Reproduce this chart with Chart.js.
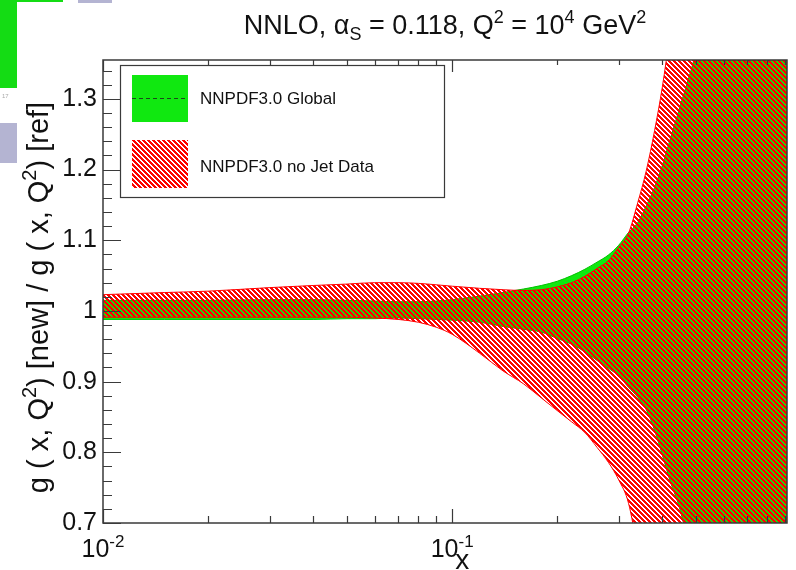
<!DOCTYPE html>
<html>
<head>
<meta charset="utf-8">
<script src="https://cdn.jsdelivr.net/npm/chart.js@4"></script>
<style>
  body { margin: 0; background: #fff; }
  #wrap { position: relative; width: 796px; height: 570px; overflow: hidden; }
  .crumb { position: absolute; }
</style>
</head>
<body>
<div id="wrap">
  <canvas id="ratio-chart" width="796" height="570"></canvas>
  <!-- bits of the slide the plot was cut out of -->
  <div class="crumb" style="left:0;top:0;width:17px;height:88px;background:#14dc14"></div>
  <div class="crumb" style="left:17px;top:0;width:46px;height:2px;background:#14dc14"></div>
  <div class="crumb" style="left:78px;top:0;width:34px;height:3px;background:#b4b4d2"></div>
  <div class="crumb" style="left:0;top:123px;width:17px;height:40px;background:#b4b4d2"></div>
  <div class="crumb" style="left:2px;top:93px;font:6px 'Liberation Sans';color:#aaa">17</div>
</div>
<script>
// x grid shared by all the band edges
const xGrid = [0.01, 0.015, 0.02, 0.03, 0.04, 0.05, 0.06, 0.07, 0.08, 0.09, 0.1,
  0.12, 0.14, 0.16, 0.18, 0.2, 0.22, 0.24, 0.26, 0.28, 0.3, 0.32, 0.34, 0.36,
  0.38, 0.4, 0.42, 0.45, 0.5, 0.6, 0.7, 0.8, 0.91]

// NNPDF3.0 global fit band (green)
const globalLow = [0.988, 0.988, 0.988, 0.988, 0.988, 0.989, 0.989, 0.990, 0.989, 0.988, 0.987,
  0.984, 0.978, 0.974, 0.970, 0.961, 0.953, 0.942, 0.930, 0.919, 0.908, 0.892, 0.878, 0.860,
  0.831, 0.796, 0.761, 0.718, 0.62, 0.45, 0.3, 0.15, 0.0]
const globalHigh = [1.015, 1.015, 1.015, 1.016, 1.016, 1.015, 1.014, 1.013, 1.013, 1.014, 1.016,
  1.021, 1.026, 1.031, 1.036, 1.042, 1.050, 1.059, 1.069, 1.079, 1.093, 1.111, 1.125, 1.149,
  1.175, 1.206, 1.241, 1.290, 1.368, 1.55, 1.75, 1.95, 2.2]

// NNPDF3.0 without jet data (red hatch)
const noJetLow = [0.991, 0.991, 0.991, 0.991, 0.991, 0.991, 0.990, 0.988, 0.984, 0.977, 0.967,
  0.940, 0.915, 0.897, 0.877, 0.859, 0.843, 0.828, 0.807, 0.786, 0.761, 0.728, 0.66, 0.58,
  0.50, 0.42, 0.35, 0.25, 0.1, -0.2, -0.5, -0.8, -1.0]
const noJetHigh = [1.023, 1.026, 1.028, 1.033, 1.036, 1.038, 1.040, 1.040, 1.039, 1.037, 1.035,
  1.032, 1.030, 1.029, 1.030, 1.034, 1.040, 1.049, 1.060, 1.071, 1.090, 1.110, 1.153, 1.199,
  1.255, 1.317, 1.39, 1.50, 1.70, 2.0, 2.3, 2.6, 2.9]

const yTicks = [0.7, 0.8, 0.9, 1.0, 1.1, 1.2, 1.3]
const yTickLabels = ['0.7', '0.8', '0.9', '1', '1.1', '1.2', '1.3']
const xLabelTicks = [0.01, 0.1]
const xLabelPowers = ['-2', '-1']
const seriesNames = ['NNPDF3.0 Global', 'NNPDF3.0 no Jet Data']

const GREEN = '#10e810'
const RED = '#ff0000'
const FONT = '"Liberation Sans", Arial, sans-serif'

// ROOT-like hatch: red with 2px see-through dashes stepping down-right
const makeHatch = () => {
  const c = document.createElement('canvas')
  c.width = 5
  c.height = 5
  const g = c.getContext('2d')
  g.fillStyle = RED
  g.fillRect(0, 0, 5, 5)
  for (let r = 0; r < 5; r++) {
    g.clearRect(r % 5, r, 1, 1)
    g.clearRect((r + 1) % 5, r, 1, 1)
  }
  return g.createPattern(c, 'repeat')
}
const hatch = makeHatch()

const pts = (arr) => xGrid.map((x, i) => ({ x, y: arr[i] }))

// text with super/subscripts, parts = [{t, sup, sub}]
const drawRich = (ctx, parts, x, y, size, align) => {
  const fontOf = (p) => `${p.sup || p.sub ? Math.round(size * 0.68) : size}px ${FONT}`
  let w = 0
  parts.forEach((p) => {
    ctx.font = fontOf(p)
    w += ctx.measureText(p.t).width
  })
  let cx = align === 'center' ? x - w / 2 : align === 'right' ? x - w : x
  ctx.textBaseline = 'alphabetic'
  ctx.textAlign = 'left'
  parts.forEach((p) => {
    ctx.font = fontOf(p)
    let dy = 0
    if (p.sup) dy = -size * 0.42
    if (p.sub) dy = size * 0.22
    ctx.fillText(p.t, cx, y + dy)
    cx += ctx.measureText(p.t).width
  })
}

const rootStyle = {
  id: 'rootStyle',
  afterDraw(chart) {
    const { ctx, chartArea: ca, scales } = chart
    const xs = scales.x
    const ys = scales.y
    ctx.save()
    ctx.fillStyle = '#111'

    // title
    drawRich(ctx, [
      { t: 'NNLO, α' }, { t: 'S', sub: true }, { t: ' = 0.118, Q' }, { t: '2', sup: true },
      { t: ' = 10' }, { t: '4', sup: true }, { t: ' GeV' }, { t: '2', sup: true },
    ], (ca.left + ca.right) / 2, 34, 27, 'center')

    // frame + inner ticks
    ctx.strokeStyle = '#3a3a3a'
    ctx.lineWidth = 1.5
    ctx.strokeRect(ca.left, ca.top, ca.right - ca.left, ca.bottom - ca.top)
    ctx.lineWidth = 1.2
    ctx.beginPath()
    for (let i = 35; i <= 67; i++) {
      const py = Math.round(ys.getPixelForValue(i / 50)) + 0.5
      const len = i % 5 === 0 ? 18 : 9
      ctx.moveTo(ca.left, py)
      ctx.lineTo(ca.left + len, py)
    }
    xLabelTicks.forEach((d) => {
      for (let k = 1; k <= 9; k++) {
        const v = k * d
        if (v < xs.min || v > xs.max) continue
        const px = Math.round(xs.getPixelForValue(v)) + 0.5
        ctx.moveTo(px, ca.bottom)
        ctx.lineTo(px, ca.bottom - (k === 1 ? 14 : 7))
        ctx.moveTo(px, ca.top)
        ctx.lineTo(px, ca.top + (k === 1 ? 12 : 5))
      }
    })
    ctx.stroke()

    // x tick labels 10^n
    xLabelTicks.forEach((v, i) => {
      drawRich(ctx, [{ t: '10' }, { t: xLabelPowers[i], sup: true }],
        xs.getPixelForValue(v), 557, 25, 'center')
    })
    // axis titles
    ctx.font = `28px ${FONT}`
    ctx.fillText('x', xs.getPixelForValue(0.1) + 3, 569)
    ctx.save()
    ctx.translate(48, (ca.top + ca.bottom) / 2 + 6)
    ctx.rotate(-Math.PI / 2)
    drawRich(ctx, [
      { t: 'g ( x, Q' }, { t: '2', sup: true }, { t: ') [new] / g ( x, Q' }, { t: '2', sup: true },
      { t: ') [ref]' },
    ], 0, 0, 29, 'center')
    ctx.restore()

    // legend box
    const lx = ca.left + 17
    const ly = ca.top + 5
    ctx.fillStyle = '#fff'
    ctx.fillRect(lx, ly, 324, 132)
    ctx.strokeStyle = '#3a3a3a'
    ctx.lineWidth = 1.2
    ctx.strokeRect(lx + 0.5, ly + 0.5, 324, 132)
    ctx.fillStyle = GREEN
    ctx.fillRect(lx + 12, ly + 10, 56, 47)
    ctx.strokeStyle = '#1a4a1a'
    ctx.setLineDash([4, 3])
    ctx.beginPath()
    ctx.moveTo(lx + 12, ly + 33.5)
    ctx.lineTo(lx + 68, ly + 33.5)
    ctx.stroke()
    ctx.setLineDash([])
    ctx.fillStyle = hatch
    ctx.fillRect(lx + 12, ly + 75, 56, 48)
    ctx.fillStyle = '#111'
    ctx.font = `17px ${FONT}`
    ctx.textBaseline = 'middle'
    ctx.fillText(seriesNames[0], lx + 80, ly + 34)
    ctx.fillText(seriesNames[1], lx + 80, ly + 102)
    ctx.restore()
  },
}

const data = {
  datasets: [
    { label: seriesNames[1] + ' low', data: pts(noJetLow), borderColor: RED, borderWidth: 1, fill: false },
    { label: seriesNames[1], data: pts(noJetHigh), borderColor: RED, borderWidth: 1, backgroundColor: hatch, fill: 0 },
    { label: seriesNames[0] + ' low', data: pts(globalLow), borderColor: '#00c000', borderWidth: 1, fill: false },
    { label: seriesNames[0], data: pts(globalHigh), borderColor: '#00c000', borderWidth: 1, backgroundColor: GREEN, fill: 2 },
  ],
}

const config = {
  type: 'line',
  data,
  options: {
    responsive: false,
    animation: false,
    cubicInterpolationMode: 'monotone',
    elements: { point: { radius: 0 } },
    layout: { padding: { top: 60, right: 9, left: 0, bottom: 0 } },
    plugins: {
      legend: { display: false },
      title: { display: false },
      tooltip: { enabled: false },
    },
    scales: {
      x: {
        type: 'logarithmic',
        min: 0.01,
        max: 0.91,
        grid: { display: false, drawTicks: false },
        border: { display: false },
        ticks: { display: false },
        afterFit: (s) => { s.height = 47 },
      },
      y: {
        min: 0.7,
        max: 1.355,
        afterBuildTicks: (s) => { s.ticks = yTicks.map((v) => ({ value: v })) },
        grid: { display: false, drawTicks: false },
        border: { display: false },
        ticks: {
          callback: (v, i) => yTickLabels[i],
          color: '#111',
          padding: 6,
          font: { family: FONT, size: 25 },
        },
        afterFit: (s) => { s.width = 103 },
      },
    },
  },
  plugins: [rootStyle],
}

new Chart(document.getElementById('ratio-chart'), config)
</script>
</body>
</html>
